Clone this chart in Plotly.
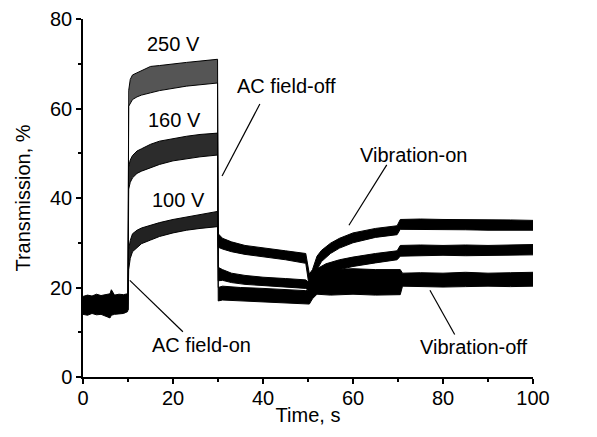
import numpy as np
import plotly.graph_objects as go

# ---------------- data ----------------
# common baseline before the AC field is switched on (all three curves overlap)
t_base = [0, 1, 2, 3, 4, 5, 6, 6.3, 7, 8, 9, 9.9, 10.0]
up_base = [18.0, 18.3, 18.1, 18.5, 18.2, 18.4, 18.6, 19.5, 18.3, 18.5, 18.4, 18.6, 18.8]
lo_base = [14.0, 13.8, 14.2, 13.9, 14.0, 13.6, 13.2, 13.8, 14.0, 14.1, 14.2, 14.6, 15.0]

t_250 = [10.0, 10.15, 10.5, 11, 12, 13, 15, 17, 20, 23, 26, 29.9, 30.05, 31, 35, 40, 45,
         49.5, 50.3, 51, 52, 55, 60, 65, 70.5, 71, 75, 80, 85, 90, 95, 100]
up_250 = [18.8, 64.0, 66.5, 67.5, 68.0, 68.5, 69.4, 69.6, 70.0, 70.3, 70.6, 71.0, 20.0, 20.3,
          20.0, 19.8, 19.6, 19.3, 19.5, 21.5, 23.5, 24.0, 24.2, 24.0, 24.0, 23.2, 23.3, 23.2,
          23.4, 23.2, 23.3, 23.4]
lo_250 = [15.0, 60.5, 61.0, 62.0, 62.6, 63.0, 63.5, 64.0, 64.5, 65.0, 65.3, 65.7, 17.0, 17.2,
          17.0, 16.8, 16.6, 16.4, 16.3, 17.5, 18.5, 18.3, 18.5, 18.3, 18.4, 20.3, 20.2, 20.1,
          20.2, 20.3, 20.2, 20.3]

t_160 = [10.0, 10.15, 10.5, 11, 12, 13, 15, 17, 20, 23, 26, 29.9, 30.05, 31, 33, 36, 40, 45,
         49.5, 50.3, 51, 52, 54, 57, 60, 65, 69.8, 70.5, 75, 80, 85, 90, 95, 100]
up_160 = [18.8, 47.0, 48.5, 49.5, 50.5, 51.0, 52.0, 52.7, 53.3, 53.8, 54.2, 54.5, 24.5, 24.0,
          23.2, 22.7, 22.3, 22.0, 21.7, 21.0, 22.5, 24.2, 25.3, 26.2, 26.8, 27.6, 28.2, 29.4,
          29.5, 29.4, 29.5, 29.4, 29.5, 29.6]
lo_160 = [15.0, 42.0, 43.5, 44.5, 45.5, 46.0, 46.7, 47.5, 48.3, 48.8, 49.2, 49.6, 21.5, 21.6,
          21.1, 20.7, 20.4, 20.1, 19.8, 19.2, 20.0, 21.8, 23.0, 24.0, 24.7, 25.5, 26.2, 27.0,
          27.1, 27.2, 27.1, 27.2, 27.2, 27.3]

t_100 = [10.0, 10.15, 10.5, 11, 12, 13, 15, 17, 20, 23, 26, 29.9, 30.05, 31, 33, 36, 40, 45,
         49.5, 50.3, 51, 52, 53, 55, 57, 60, 65, 69.8, 70.5, 75, 80, 85, 90, 95, 100]
up_100 = [18.8, 28.5, 30.5, 32.0, 32.8, 33.3, 33.9, 34.5, 35.2, 35.7, 36.2, 37.0, 32.0, 31.0,
          30.2, 29.4, 28.8, 28.2, 27.6, 23.0, 24.0, 27.0, 28.3, 29.9, 31.0, 32.2, 33.2, 33.8,
          35.2, 35.3, 35.2, 35.2, 35.1, 35.1, 35.0]
lo_100 = [15.0, 24.0, 26.5, 28.0, 29.0, 29.8, 30.6, 31.4, 32.2, 32.8, 33.2, 33.6, 29.0, 28.6,
          28.0, 27.4, 26.9, 26.2, 25.4, 20.0, 20.5, 24.0, 25.8, 27.6, 28.8, 30.0, 31.2, 31.8,
          33.0, 33.0, 33.0, 32.9, 32.8, 32.8, 32.8]

x_ticks = [0, 20, 40, 60, 80, 100]
y_ticks = [0, 20, 40, 60, 80]

# annotation texts and their anchor points (time, transmission)
curve_labels = ["250 V", "160 V", "100 V"]
curve_label_t = [20.0, 20.3, 21.3]
curve_label_y = [74.5, 57.4, 39.5]

end_labels = ["100 V", "160 V", "250 V"]
end_label_y = [34.6, 28.1, 21.4]

callouts = ["AC field-off", "AC field-on", "Vibration-on", "Vibration-off"]
callout_t = [45.3, 26.4, 73.5, 86.8]
callout_y = [65.0, 7.1, 49.6, 6.8]
leader_from_t = [30.9, 10.4, 59.1, 77.1]
leader_from_y = [44.9, 21.6, 33.9, 19.4]
leader_to_t = [39.3, 22.2, 67.5, 82.6]
leader_to_y = [61.0, 10.1, 47.4, 9.5]

# ---------------- figure ----------------
FONT = "Liberation Sans, Arial, sans-serif"
FS = 20
fig = go.Figure()


def band(t, up, lo, fill):
    fig.add_trace(go.Scatter(x=t, y=lo, mode="lines", line=dict(color="black", width=1),
                             showlegend=False, hoverinfo="skip"))
    fig.add_trace(go.Scatter(x=t, y=up, mode="lines", line=dict(color="black", width=1),
                             fill="tonexty", fillcolor=fill, showlegend=False, hoverinfo="skip"))


band(t_base, up_base, lo_base, "black")

for t, up, lo, grey in [(t_100, up_100, lo_100, "#222222"),
                        (t_160, up_160, lo_160, "#2c2c2c"),
                        (t_250, up_250, lo_250, "#555555")]:
    t = np.array(t); up = np.array(up); lo = np.array(lo)
    rise = t <= 10.15
    on = (t >= 10.15) & (t <= 29.9)
    off = t >= 29.9
    band(t[rise], up[rise], lo[rise], "black")
    band(t[on], up[on], lo[on], grey)
    band(t[off], up[off], lo[off], "black")

for txt, tx, ty in zip(curve_labels, curve_label_t, curve_label_y):
    fig.add_annotation(x=tx, y=ty, text=txt, showarrow=False,
                       font=dict(family=FONT, size=FS, color="black"))

for txt, ty in zip(end_labels, end_label_y):
    fig.add_annotation(x=102, y=ty, text=txt, showarrow=False, xanchor="left",
                       font=dict(family=FONT, size=FS, color="black"))

for txt, tx, ty, x0, y0, x1, y1 in zip(callouts, callout_t, callout_y, leader_from_t,
                                        leader_from_y, leader_to_t, leader_to_y):
    fig.add_annotation(x=tx, y=ty, text=txt, showarrow=False,
                       font=dict(family=FONT, size=FS, color="black"))
    fig.add_shape(type="line", x0=x0, y0=y0, x1=x1, y1=y1, xref="x", yref="y",
                  line=dict(color="black", width=1.2))

axis_common = dict(showline=True, linecolor="black", linewidth=1.5, ticks="outside",
                   ticklen=5, tickwidth=1.5, tickcolor="black", showgrid=False,
                   zeroline=False, mirror=False, automargin=False,
                   tickfont=dict(family=FONT, size=FS, color="black"),
                   minor=dict(ticks="outside", ticklen=3, tickwidth=1.5, tickcolor="black"))

fig.update_xaxes(range=[0, 100], tickvals=x_ticks, ticktext=[str(v) for v in x_ticks],
                 minor_dtick=10, minor_tick0=0, ticklabelstandoff=-3,
                 title=dict(text="Time, s", font=dict(family=FONT, size=FS, color="black"),
                            standoff=0),
                 **axis_common)
fig.update_yaxes(range=[0, 80], tickvals=y_ticks, ticktext=[str(v) for v in y_ticks],
                 minor_dtick=10, minor_tick0=0,
                 title=dict(text="Transmission, %", font=dict(family=FONT, size=FS, color="black"),
                            standoff=14),
                 **axis_common)

fig.update_layout(width=589, height=429, margin=dict(l=75, r=64, t=11, b=60),
                  plot_bgcolor="white", paper_bgcolor="white",
                  font=dict(family=FONT, size=FS, color="black"))

fig.write_html("out.html")
